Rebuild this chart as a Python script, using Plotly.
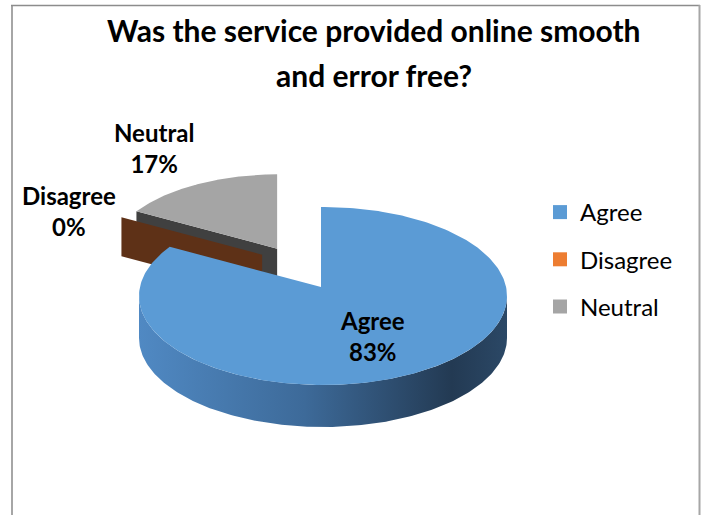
import numpy as np
import plotly.graph_objects as go

# ---- data -------------------------------------------------------------
categories = ["Agree", "Disagree", "Neutral"]
values = [83, 0, 17]
legend_colors = ["#5B9BD5", "#ED7D31", "#A5A5A5"]
title_lines = ["Was the service provided online smooth", "and error free?"]

# ---- canvas / styling -------------------------------------------------
W, H = 704, 515
FONT = "Lato"

# 3-D pie geometry in pixel units (y grows downward)
PIE_CENTER = (323.0, 296.0)
RX, RY = 184.0, 89.0
DEPTH = 42.0
HUB_SHIFT = (-2.0, -9.0)          # perspective: hub sits above the ellipse centre
explode = {"Agree": (0.0, 0.0), "Disagree": (-59.0, -33.0), "Neutral": (-44.0, -39.0)}
shrink = {"Agree": 1.0, "Disagree": 0.93, "Neutral": 0.93}
top_color = {"Agree": "#5B9BD5", "Disagree": "#ED7D31", "Neutral": "#A5A5A5"}
cut_color = {"Agree": "#3A6B9C", "Disagree": "#5E3117", "Neutral": "#404040"}
side_scale = {
    "Agree": [[0, "#5089C3"], [0.45, "#3D6A99"], [0.85, "#233A53"], [1, "#2B4866"]],
    "Disagree": [[0, "#A65A24"], [1, "#5E3117"]],
    "Neutral": [[0, "#8A8A8A"], [1, "#404040"]],
}
label_pos = {"Agree": (372, 336), "Disagree": (69, 211), "Neutral": (154, 148)}


def slice_geometry(cat):
    s = shrink[cat]
    dx, dy = explode[cat]
    cx, cy = PIE_CENTER[0] + dx, PIE_CENTER[1] + dy
    a, b = RX * s, RY * s
    hub = (cx + HUB_SHIFT[0] * s, cy + HUB_SHIFT[1] * s)
    return (cx, cy), a, b, hub, DEPTH * s


def rim_point(center, a, b, hub, phi):
    """Point where the ray from the hub at angle phi (clockwise from 12 o'clock) meets the rim."""
    ux, uy = (hub[0] - center[0]) / a, (hub[1] - center[1]) / b
    vx, vy = np.sin(phi), -np.cos(phi)
    uv = ux * vx + uy * vy
    t = -uv + np.sqrt(uv * uv - (ux * ux + uy * uy) + 1.0)
    return hub[0] + t * a * vx, hub[1] + t * b * vy


def hub_angle(center, a, b, hub, x, y):
    wx, wy = (x - hub[0]) / a, (y - hub[1]) / b
    return np.degrees(np.arctan2(wx, -wy)) % 360.0


def poly(xs, ys, **kw):
    return go.Scatter(x=list(xs) + [xs[0]], y=list(ys) + [ys[0]], mode="lines",
                      fill="toself", line=dict(width=0), hoverinfo="skip",
                      showlegend=False, **kw)


total = float(sum(values))
cum = np.concatenate([[0.0], np.cumsum(values)])
start_deg = 360.0 * cum[:-1] / total
end_deg = 360.0 * cum[1:] / total

fig = go.Figure()

# draw the slices from the back (smallest hub y) to the front
order = sorted(range(len(categories)), key=lambda i: slice_geometry(categories[i])[3][1])
for i in order:
    cat = categories[i]
    center, a, b, hub, depth = slice_geometry(cat)
    p0, p1 = np.radians(start_deg[i]), np.radians(end_deg[i])

    # radial cut faces facing the viewer
    for phi, visible in ((p0, np.sin(p0) < -1e-6), (p1, np.sin(p1) > 1e-6)):
        if visible:
            rx, ry = rim_point(center, a, b, hub, phi)
            fig.add_trace(poly([hub[0], rx, rx, hub[0]],
                               [hub[1], ry, ry + depth, hub[1] + depth],
                               fillcolor=cut_color[cat]))

    # curved outer wall (front half of the ellipse only)
    if end_deg[i] > start_deg[i]:
        th = np.radians(np.linspace(90, 270, 181))
        ex = center[0] + a * np.sin(th)
        ey = center[1] - b * np.cos(th)
        ang = hub_angle(center, a, b, hub, ex, ey)
        keep = (ang >= start_deg[i]) & (ang <= end_deg[i])
        if keep.sum() > 1:
            ex, ey = ex[keep], ey[keep]
            xs = np.concatenate([ex, ex[::-1]])
            ys = np.concatenate([ey, (ey + depth)[::-1]])
            fig.add_trace(poly(xs, ys, fillgradient=dict(
                type="horizontal", colorscale=side_scale[cat],
                start=float(ex.min()), stop=float(ex.max()))))

        # top face
        phis = np.linspace(p0, p1, 240)
        pts = [rim_point(center, a, b, hub, p) for p in phis]
        xs = [hub[0]] + [p[0] for p in pts]
        ys = [hub[1]] + [p[1] for p in pts]
        fig.add_trace(poly(xs, ys, fillcolor=top_color[cat]))

# data labels
for cat, v in zip(categories, values):
    pct = round(100.0 * v / total)
    lx, ly = label_pos[cat]
    fig.add_annotation(x=lx, y=ly, text=f"<b>{cat}</b><br><b>{pct}%</b>",
                       showarrow=False, xanchor="center", yanchor="middle",
                       font=dict(family=FONT, size=24, color="#000000"))

# legend entries
for cat, col in zip(categories, legend_colors):
    fig.add_trace(go.Scatter(x=[None], y=[None], mode="markers", name=cat,
                             legendgroup=cat,
                             marker=dict(symbol="square", size=14, color=col)))

# title (two centred lines)
for k, line in enumerate(title_lines):
    fig.add_annotation(x=374, y=30 + 45 * k, text=f"<b>{line}</b>", showarrow=False,
                       xanchor="center", yanchor="middle",
                       font=dict(family=FONT, size=30, color="#000000"))

# chart frame
frame = "#A6A6A6"
fig.add_shape(type="line", x0=12, x1=12, y0=5, y1=H, line=dict(color=frame, width=2))
fig.add_shape(type="line", x0=11, x1=700, y0=5.5, y1=5.5, line=dict(color="#8C8C8C", width=1.5))
fig.add_shape(type="line", x0=699.5, x1=699.5, y0=5, y1=H, line=dict(color=frame, width=2))

fig.update_layout(
    width=W, height=H, autosize=False,
    margin=dict(l=0, r=0, t=0, b=0),
    paper_bgcolor="white", plot_bgcolor="white",
    xaxis=dict(range=[0, W], visible=False, fixedrange=True),
    yaxis=dict(range=[H, 0], visible=False, fixedrange=True),
    legend=dict(x=540 / W, y=1 - 190 / H, xanchor="left", yanchor="top",
                font=dict(family=FONT, size=24, color="#000000"),
                tracegroupgap=13, itemwidth=30, bgcolor="rgba(0,0,0,0)"),
    showlegend=True,
)

fig.write_html("out.html")
